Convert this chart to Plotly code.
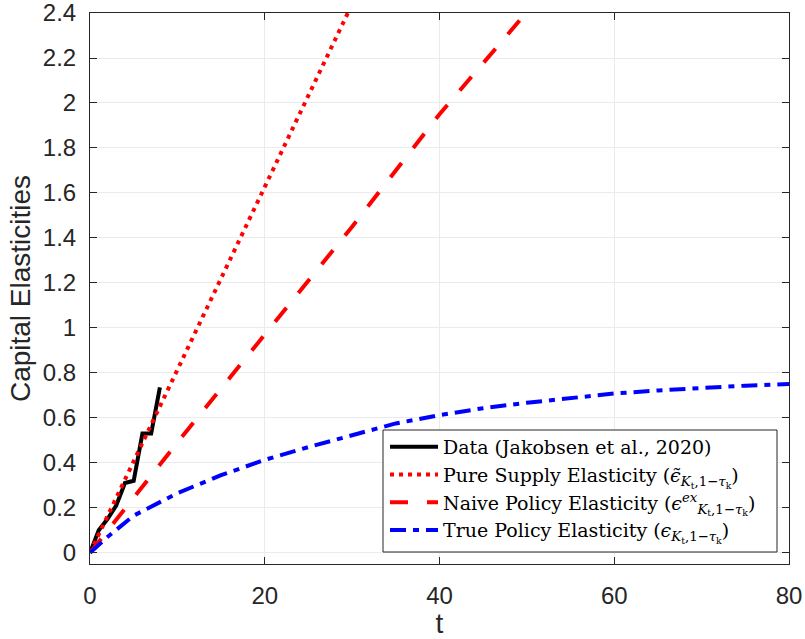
import plotly.graph_objects as go

# ---- data ----
t_data = [0, 1, 2, 3, 4, 5, 6, 7, 8]
y_data = [0, 0.10, 0.15, 0.21, 0.31, 0.32, 0.53, 0.53, 0.735]

t_pure = [0, 10, 20, 30]
y_pure = [0, 0.81, 1.62, 2.44]

t_naive = [0, 10, 20, 30, 40, 51]
y_naive = [0, 0.49, 0.97, 1.45, 1.95, 2.45]

t_true = [0, 2, 5, 10, 15, 20, 25, 30, 35, 40, 45, 50, 55, 60, 65, 70, 75, 80]
y_true = [0, 0.07, 0.165, 0.265, 0.345, 0.413, 0.47, 0.524, 0.575, 0.612, 0.643,
          0.667, 0.689, 0.708, 0.722, 0.734, 0.743, 0.75]

x_ticks = [0, 20, 40, 60, 80]
y_ticks = [0, 0.2, 0.4, 0.6, 0.8, 1, 1.2, 1.4, 1.6, 1.8, 2, 2.2, 2.4]
y_ticktext = ["0", "0.2", "0.4", "0.6", "0.8", "1", "1.2", "1.4", "1.6", "1.8", "2", "2.2", "2.4"]

names = [
    "Data (Jakobsen et al., 2020)",
    "Pure Supply Elasticity (<i>ϵ̃</i><sub><i>K</i><sub>t</sub>,1−<i>τ</i><sub>k</sub></sub>)",
    "Naive Policy Elasticity (<i>ϵ</i><sup><i>ex</i></sup><sub><i>K</i><sub>t</sub>,1−<i>τ</i><sub>k</sub></sub>)",
    "True Policy Elasticity (<i>ϵ</i><sub><i>K</i><sub>t</sub>,1−<i>τ</i><sub>k</sub></sub>)",
]

fig = go.Figure()
fig.add_trace(go.Scatter(x=t_data, y=y_data, mode="lines", name=names[0],
                         line=dict(color="black", width=4)))
fig.add_trace(go.Scatter(x=t_pure, y=y_pure, mode="lines", name=names[1],
                         line=dict(color="#ff0000", width=4, dash="4px,5px")))
fig.add_trace(go.Scatter(x=t_naive, y=y_naive, mode="lines", name=names[2],
                         line=dict(color="#ff0000", width=4, dash="18px,19px")))
fig.add_trace(go.Scatter(x=t_true, y=y_true, mode="lines", name=names[3],
                         line=dict(color="#0000ff", width=4, dash="16px,7px,6px,7px")))

L, R, T, B = 90, 16, 13, 75
W, H = 805, 639
pw, ph = W - L - R, H - T - B

def px2paper_x(px):
    return (px - L) / pw

def px2paper_y(py):
    return (H - B - py) / ph

# legend box
fig.add_shape(type="rect", xref="paper", yref="paper",
              x0=px2paper_x(383), x1=px2paper_x(777),
              y0=px2paper_y(552), y1=px2paper_y(430),
              fillcolor="white", line=dict(color="#262626", width=1), layer="above")

axis_common = dict(
    showline=True, linecolor="#262626", linewidth=1, mirror="ticks",
    ticks="inside", ticklen=7, tickcolor="#262626", tickwidth=1,
    showgrid=True, gridcolor="#ebebeb", gridwidth=1, zeroline=False,
    ticklabeloverflow="allow",
    tickfont=dict(family="Liberation Sans", size=24, color="#262626"),
)

fig.update_layout(
    width=W, height=H,
    margin=dict(l=L, r=R, t=T, b=B),
    paper_bgcolor="white", plot_bgcolor="white",
    xaxis=dict(range=[0, 80.0001], tickvals=x_ticks, ticklabelstandoff=10,
               title=dict(text="t", font=dict(family="Liberation Sans", size=28, color="#262626"),
                          standoff=6),
               automargin=False, **axis_common),
    yaxis=dict(range=[-0.05, 2.4001], tickvals=y_ticks, ticktext=y_ticktext, ticklabelstandoff=8,
               title=dict(text="Capital Elasticities",
                          font=dict(family="Liberation Sans", size=28, color="#262626"),
                          standoff=4),
               automargin=False, **axis_common),
    legend=dict(x=px2paper_x(385), y=px2paper_y(428), xanchor="left", yanchor="top",
                bgcolor="rgba(0,0,0,0)", borderwidth=0, itemwidth=48,
                font=dict(family="DejaVu Serif", size=19, color="black"),
                tracegroupgap=0),
    showlegend=True,
)

fig.write_html("out.html")
